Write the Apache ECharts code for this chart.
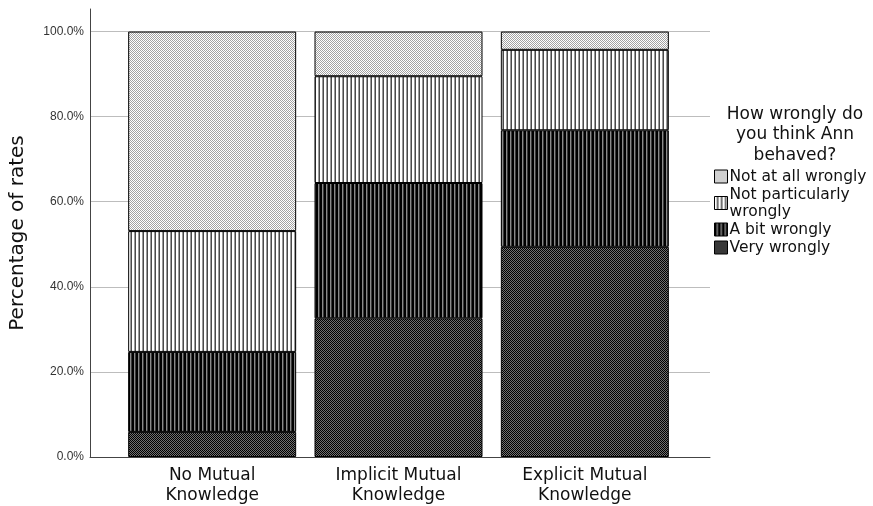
<!DOCTYPE html>
<html>
<head>
<meta charset="utf-8">
<script src="https://cdn.jsdelivr.net/npm/echarts@6/dist/echarts.min.js"></script>
<style>
html,body{margin:0;padding:0;background:#fff;}
#main{width:873px;height:506px;}
</style>
</head>
<body>
<div id="main"></div>
<script>
// ---- data ----
var categories = ['No Mutual\nKnowledge', 'Implicit Mutual\nKnowledge', 'Explicit Mutual\nKnowledge'];
var seriesNames = ['Very wrongly', 'A bit wrongly', 'Not particularly wrongly', 'Not at all wrongly'];
var veryWrongly = [5.9, 32.6, 49.4];
var aBitWrongly = [18.8, 31.8, 27.4];
var notParticularlyWrongly = [28.4, 25.1, 18.9];
var notAtAllWrongly = [46.9, 10.5, 4.3];
var yTicks = [0, 20, 40, 60, 80, 100];

// ---- patterns ----
function makePattern(w, h, draw) {
  var c = document.createElement('canvas');
  c.width = w; c.height = h;
  var ctx = c.getContext('2d');
  draw(ctx);
  return { image: c, repeat: 'repeat' };
}
function checker(a, b) {
  return makePattern(2, 2, function (ctx) {
    ctx.fillStyle = b; ctx.fillRect(0, 0, 2, 2);
    ctx.fillStyle = a; ctx.fillRect(0, 0, 1, 1); ctx.fillRect(1, 1, 1, 1);
  });
}
function dots(a, b) {
  return makePattern(3, 3, function (ctx) {
    ctx.fillStyle = b; ctx.fillRect(0, 0, 3, 3);
    ctx.fillStyle = a; ctx.fillRect(0, 0, 1, 1); ctx.fillRect(1, 1, 1, 1);
  });
}
function stripes(cols) {
  return makePattern(cols.length, 4, function (ctx) {
    cols.forEach(function (col, i) { ctx.fillStyle = col; ctx.fillRect(i, 0, 1, 4); });
  });
}
var patVery = checker('#000000', '#707070');
var patBit = stripes(['#000000', '#000000', '#8a8a8a', '#3a3a3a']);
var patNotPart = stripes(['#ffffff', '#ffffff', '#9a9a9a', '#4a4a4a']);
var patNotAtAll = checker('#a2a2a2', '#ffffff');

var fills = [patVery, patBit, patNotPart, patNotAtAll];
var values = [veryWrongly, aBitWrongly, notParticularlyWrongly, notAtAllWrongly];

var chart = echarts.init(document.getElementById('main'), null, { renderer: 'canvas' });

var series = seriesNames.map(function (name, i) {
  return {
    name: name,
    type: 'bar',
    xAxisIndex: 1,
    yAxisIndex: 1,
    stack: 'total',
    barWidth: 168,
    data: values[i],
    itemStyle: { color: fills[i], borderColor: '#000', borderWidth: 1 },
    emphasis: { disabled: true }
  };
});

chart.setOption({
  animation: false,
  backgroundColor: '#fff',
  title: {
    text: 'How wrongly do\nyou think Ann\nbehaved?',
    left: 790,
    top: 99,
    textAlign: 'center',
    textStyle: { fontFamily: 'DejaVu Sans', fontSize: 17, fontWeight: 'normal', color: '#111', lineHeight: 20.5 }
  },
  legend: {
    orient: 'vertical',
    left: 709,
    top: 163,
    itemWidth: 13,
    itemHeight: 13,
    itemGap: 1,
    icon: 'rect',
    data: ['Not at all wrongly', 'Not particularly wrongly', 'A bit wrongly', 'Very wrongly'],
    formatter: function (n) { return n === 'Not particularly wrongly' ? 'Not particularly\nwrongly' : n; },
    textStyle: { fontFamily: 'DejaVu Sans', fontSize: 15.5, color: '#111', lineHeight: 17, padding: [0, 0, 0, -3] },
    itemStyle: { borderColor: '#000', borderWidth: 1 },
    selectedMode: false
  },
  grid: [
    { left: 87, right: 163, top: 9, bottom: 49 },
    { left: 119, right: 195, top: 9, bottom: 49 }
  ],
  xAxis: [
    {
      gridIndex: 0, type: 'value', min: 0, max: 1,
      axisLine: { show: true, lineStyle: { color: '#444', width: 1 } },
      axisTick: { show: false }, axisLabel: { show: false }, splitLine: { show: false }
    },
    {
      gridIndex: 1, type: 'category', data: categories,
      axisLine: { show: false }, axisTick: { show: false },
      axisLabel: { fontFamily: 'DejaVu Sans', fontSize: 17, color: '#111', lineHeight: 20, margin: 9, interval: 0 }
    }
  ],
  yAxis: [
    {
      gridIndex: 0, type: 'value', min: 0, max: 105.3, interval: 20,
      name: 'Percentage of rates', nameLocation: 'middle', nameGap: 62,
      nameTextStyle: { fontFamily: 'DejaVu Sans', fontSize: 20, color: '#111' },
      axisLine: { show: true, lineStyle: { color: '#444', width: 1 } },
      axisTick: { show: false },
      axisLabel: {
        fontFamily: 'Liberation Sans', fontSize: 12, color: '#333', margin: 6, showMaxLabel: false,
        formatter: function (v) { return yTicks.indexOf(v) >= 0 ? v.toFixed(1) + '%' : ''; }
      },
      splitLine: { show: true, showMaxLine: false, lineStyle: { color: '#bdbdbd', width: 1 } }
    },
    {
      gridIndex: 1, type: 'value', min: 0, max: 105.3, show: false,
      splitLine: { show: false }
    }
  ],
  tooltip: { show: false },
  series: series
});
</script>
</body>
</html>
